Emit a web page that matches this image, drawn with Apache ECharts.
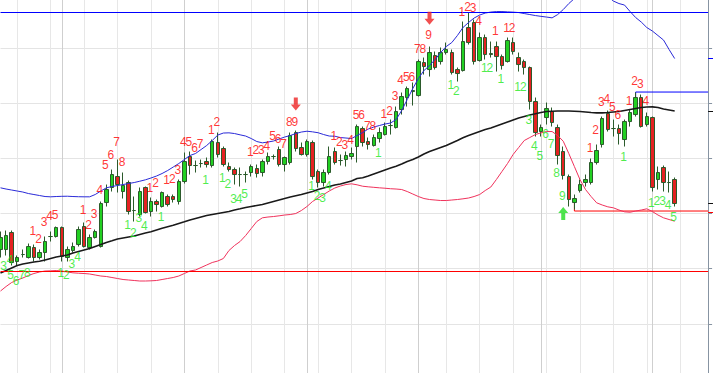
<!DOCTYPE html>
<html><head><meta charset="utf-8">
<script src="https://cdn.jsdelivr.net/npm/echarts@6/dist/echarts.min.js"></script>
<style>html,body{margin:0;padding:0;background:#fff;overflow:hidden;width:713px;height:373px}
#c{position:absolute;left:0;top:-6.55px;width:713px;height:386.05px}</style>
</head><body><div id="c"></div>
<script>
// bar slots (122 trading bars + empty slots on the right)
const categories = Array.from({length: 128}, (_, i) => 'B' + (i + 1));
// [open, close, low, high]
const candles = [
[25.0,26.2,24.2,26.8],[25.0,26.4,24.4,26.9],[26.7,23.7,23.4,26.9],[23.8,24.2,23.4,24.4],[24.5,24.5,24.2,25.0],
[24.2,25.3,24.1,25.6],[25.2,24.2,23.8,25.5],[24.2,24.7,24.0,25.0],[24.7,25.8,23.8,26.3],[26.3,26.3,25.8,26.8],
[26.3,27.2,26.2,27.3],[27.2,24.3,23.8,27.3],[24.2,25.0,23.8,25.3],[24.9,25.3,24.7,25.7],[25.5,27.0,25.3,27.3],
[27.3,25.3,25.2,27.7],[25.2,26.2,25.0,26.5],[26.2,26.8,26.1,27.0],[25.3,29.6,25.2,29.8],[29.7,31.0,29.3,31.5],
[31.2,32.5,30.8,33.0],[32.3,31.5,30.7,34.0],[30.8,31.4,30.1,32.7],[31.7,28.8,28.5,31.9],[28.9,28.9,27.8,30.3],
[28.5,30.8,28.3,31.2],[31.2,28.7,28.6,31.3],[28.8,29.8,28.3,30.2],[29.8,29.5,28.8,30.0],[29.3,30.7,29.2,30.8],
[30.3,29.5,29.3,30.5],[30.3,30.0,29.7,30.5],[29.8,31.8,29.5,32.0],[31.8,33.8,31.6,34.7],[34.3,33.4,32.5,34.8],
[33.4,33.4,32.7,33.9],[33.6,33.6,33.2,34.0],[33.8,33.5,33.2,34.2],[33.4,35.8,33.2,36.0],[35.7,34.5,34.2,36.7],
[35.1,33.5,33.3,35.3],[33.3,33.0,32.8,33.7],[33.0,32.5,31.5,33.2],[32.5,32.5,31.3,33.2],[32.5,32.5,31.7,32.8],
[32.7,33.3,32.3,33.5],[33.1,32.6,32.2,33.5],[32.7,33.8,32.3,34.0],[33.8,34.3,33.5,34.7],[34.3,34.3,34.0,34.5],
[35.0,33.5,33.3,35.3],[33.5,34.2,32.8,34.3],[33.7,36.4,33.5,36.7],[36.7,35.1,34.8,36.9],[35.2,34.5,34.4,35.7],
[34.5,35.8,34.3,36.0],[35.7,32.3,32.0,35.9],[32.8,31.7,31.2,33.0],[31.7,32.7,31.3,33.0],[32.7,34.3,32.5,35.3],
[34.8,33.7,33.5,35.2],[33.9,33.9,33.4,34.5],[34.0,34.4,33.3,34.8],[34.3,34.6,34.0,35.2],[35.3,37.3,33.7,37.5],
[37.1,35.7,35.3,37.3],[35.8,35.5,35.0,36.2],[35.4,36.2,35.3,36.5],[36.1,36.7,35.7,37.2],[36.5,37.3,36.4,37.7],
[37.4,37.4,36.5,38.0],[37.2,38.8,37.1,39.3],[39.0,40.3,38.5,40.7],[40.2,41.1,39.3,41.3],[40.8,40.9,39.4,41.7],
[40.4,43.8,40.3,44.0],[43.7,43.3,42.5,44.2],[43.0,44.7,42.3,45.3],[44.4,43.2,43.0,44.8],[43.8,44.7,43.5,45.2],
[44.7,45.0,44.5,45.7],[44.7,42.7,42.5,45.0],[43.0,42.6,41.8,43.2],[42.9,45.8,42.8,47.8],[47.2,45.7,45.5,48.7],
[47.7,43.8,43.5,48.0],[43.9,46.2,43.8,46.7],[46.2,44.5,44.0,46.5],[44.6,44.5,44.2,45.8],[45.3,44.3,42.8,45.8],
[44.3,43.4,43.0,44.5],[43.8,45.9,43.7,46.2],[45.7,44.8,44.5,46.2],[44.2,43.5,42.8,44.7],[43.8,43.2,42.5,44.0],
[43.2,39.8,39.0,43.3],[39.8,36.7,36.3,40.2],[36.8,37.2,36.3,37.5],[38.2,39.1,37.5,39.7],[38.8,37.7,37.3,39.2],
[37.2,34.4,33.5,37.5],[34.8,32.4,32.0,35.3],[32.3,30.0,29.3,32.5],[29.7,30.1,29.0,30.5],[30.9,31.5,30.7,32.0],
[31.7,32.0,31.3,32.5],[31.7,33.7,31.5,34.1],[33.7,34.9,33.5,35.5],[35.5,38.1,35.2,38.3],[38.6,37.0,36.8,38.9],
[37.1,37.1,36.3,38.0],[37.1,36.6,35.5,37.5],[36.0,37.8,35.3,38.0],[37.8,38.7,37.3,39.0],[38.5,40.2,38.3,40.7],
[40.2,37.3,37.2,40.5],[37.5,38.3,37.3,38.7],[38.2,31.2,30.8,38.3],[32.0,32.7,31.0,33.3],[33.2,31.7,30.8,33.4],
[31.7,31.7,30.7,32.8],[32.0,29.6,29.3,32.2]
];
const upperBand = [
31.17,31.05,30.95,30.85,30.75,30.6,30.5,30.4,30.3,30.27,30.3,30.32,30.33,30.3,30.28,30.27,30.27,30.5,30.85,31.17,
31.3,31.4,31.5,31.6,31.7,31.83,31.97,32.15,32.35,32.6,32.9,33.25,33.6,34.0,34.4,34.6,35.0,35.4,35.9,36.45,
36.65,36.67,36.6,36.47,36.35,36.1,35.8,35.67,35.75,35.85,36.05,36.25,36.4,36.6,36.75,36.83,36.77,36.68,36.5,36.35,
36.33,36.2,36.15,36.1,36.4,36.7,37.05,37.25,37.4,37.55,37.65,38.0,38.9,40.0,41.1,42.1,42.9,43.4,44.0,44.7,
45.3,45.7,46.4,47.2,47.7,48.15,48.45,48.65,48.75,48.8,48.8,48.77,48.74,48.7,48.6,48.5,48.4,48.32,48.25,48.17,
48.5,49.0,49.6,50.1,50.7,51.2,51.4,51.4,51.0,50.3,49.85,49.6,49.45,48.8,48.2,47.75,47.2,46.85,46.4,45.95,
45.0,44.1
];
const movingAvg = [
22.65,22.9,23.15,23.4,23.55,23.65,23.75,23.83,23.95,24.1,24.25,24.35,24.45,24.65,24.8,24.95,25.1,25.3,25.5,25.7,
25.87,26.05,26.15,26.25,26.35,26.5,26.65,26.78,26.95,27.12,27.27,27.42,27.6,27.77,27.95,28.1,28.25,28.4,28.5,28.6,
28.7,28.8,28.95,29.07,29.2,29.3,29.4,29.5,29.65,29.8,29.95,30.1,30.25,30.38,30.5,30.65,30.8,31.0,31.15,31.3,
31.45,31.55,31.7,31.85,32.1,32.17,32.35,32.55,32.75,32.95,33.15,33.33,33.55,33.8,34.0,34.25,34.55,34.8,35.0,35.2,
35.4,35.65,35.9,36.17,36.4,36.6,36.8,37.0,37.15,37.35,37.55,37.75,37.95,38.15,38.3,38.45,38.57,38.7,38.8,38.83,
38.85,38.85,38.85,38.83,38.8,38.75,38.7,38.67,38.67,38.7,38.75,38.8,38.9,39.0,39.1,39.2,39.25,39.27,39.2,39.05,
38.95,38.85
];
const lowerBand = [
20.85,21.3,21.7,21.95,22.15,22.4,22.6,22.75,22.85,22.87,22.9,22.85,22.75,22.67,22.63,22.6,22.55,22.45,22.35,22.3,
22.2,22.1,22.0,21.95,21.9,21.85,21.85,21.87,21.9,22.0,22.1,22.2,22.35,22.6,22.85,22.95,23.2,23.45,23.7,23.85,
24.1,24.9,25.4,25.8,26.4,27.1,27.8,28.17,28.25,28.3,28.37,28.45,28.5,28.6,28.9,29.3,29.8,30.15,30.5,30.85,
31.15,31.35,31.5,31.57,31.47,31.33,31.27,31.22,31.17,31.13,31.08,31.05,31.0,30.8,30.55,30.3,30.1,30.0,29.95,29.9,
29.9,29.95,30.0,30.07,30.15,30.3,30.5,30.9,31.25,32.0,32.8,33.6,34.5,35.2,35.9,36.2,36.5,36.67,36.8,36.8,
36.4,35.83,34.6,33.3,32.0,31.0,30.3,29.67,29.45,29.27,29.17,28.95,28.77,28.73,28.85,28.95,29.07,28.8,28.45,28.17,
28.0,27.83
];
// [bar index, price level of the label, count]
const sellCounts = [
[6,26.83,'1'],[7,26.07,'2'],[8,27.8,'3'],[9,28.33,'4'],[10,28.45,'5'],
[15,29.0,'1'],[16,27.45,'2'],[17,28.6,'3'],[18,31.0,'4'],[19,33.43,'5'],[20,34.5,'6'],[21,35.73,'7'],[22,33.77,'8'],
[27,31.17,'1'],[28,31.67,'2'],
[30,32.0,'1'],[31,32.1,'2'],[32,33.0,'3'],[33,35.73,'4'],[34,35.73,'5'],[35,35.17,'6'],[36,35.6,'7'],
[38,37.0,'1'],[39,37.73,'2'],
[45,34.75,'1'],[46,35.0,'2'],[47,35.0,'3'],[48,35.4,'4'],[49,36.33,'5'],[50,36.1,'6'],[51,35.6,'7'],[52,37.73,'8'],[53,37.73,'9'],
[60,36.4,'1'],[61,35.75,'2'],[62,35.5,'3'],[63,36.0,'4'],[64,38.5,'5'],[65,38.5,'6'],[66,37.33,'7'],[67,37.33,'8'],
[69,38.6,'1'],[70,38.83,'2'],[71,40.35,'3'],[72,42.0,'4'],[73,42.27,'5'],[74,42.27,'6'],[75,45.07,'7'],[76,45.07,'8'],[77,46.5,'9'],
[83,48.77,'1'],[84,49.3,'2'],[85,49.17,'3'],[86,47.83,'4'],
[89,46.83,'1'],[91,47.17,'1'],[92,47.17,'2'],
[106,35.17,'1'],[107,36.93,'2'],[108,39.77,'3'],[109,40.07,'4'],[110,39.27,'5'],[111,38.43,'6'],
[113,39.85,'1'],[114,41.85,'2'],[115,41.53,'3'],[116,39.9,'4']
];
const buyCounts = [
[0,23.4,'3'],[1,24.0,'4'],[2,22.45,'5'],[3,21.9,'6'],[4,22.5,'7'],[5,22.65,'8'],
[11,22.67,'1'],[12,22.5,'2'],[13,23.57,'3'],[14,24.23,'4'],
[23,27.43,'1'],[24,26.67,'2'],[25,28.17,'3'],[26,27.33,'4'],[29,28.23,'1'],
[37,32.0,'1'],[40,32.17,'1'],[41,31.57,'2'],[42,30.07,'3'],[43,30.07,'4'],[44,30.6,'5'],
[56,31.37,'1'],[57,30.4,'2'],[58,30.2,'3'],[59,31.4,'4'],
[68,34.7,'1'],[81,41.45,'1'],[82,40.83,'2'],[87,43.17,'1'],[88,43.17,'2'],[90,42.07,'1'],
[93,41.27,'1'],[94,41.27,'2'],[95,37.97,'3'],[96,35.4,'4'],[97,34.33,'5'],[98,36.6,'6'],[99,35.6,'7'],[100,32.67,'8'],[101,30.4,'9'],
[112,34.27,'1'],[117,29.7,'1'],[118,29.83,'2'],[119,29.83,'3'],[120,29.45,'4'],[121,28.3,'5']
];
const sellArrows = [[53,39.55],[77,48.13]];
const buyArrows = [[101,28.6]];
const tdstResistanceFull = 48.75;
const tdstSupportFull = 22.85;
const tdstResistance = [[114,40.15],[114,40.75],[127,40.75]];
const tdstSupport = [[103,29.85],[103,28.85],[127,28.85]];
const weekLines = [3,9,15,21,27,33,39,45,51,57,63,69,75,80,86,92,98,104,110,116,122];
const monthLines = [11,33,55,75,97,117];
const priceScale = {min: 12.05, max: 50.655, step: 5.515};
const lastRedMark = 28.73;

const FONT = '"Liberation Sans", Arial, sans-serif';
const chart = echarts.init(document.getElementById('c'), null, {renderer: 'svg'});
const hiddenCat = (pos, lines, color) => ({
  type: 'category', data: categories, boundaryGap: false, position: pos,
  axisLine: {show: false}, axisTick: {show: false}, axisLabel: {show: false},
  splitLine: {show: true, interval: (i) => lines.includes(i), lineStyle: {color: color, width: 1}}
});
const labelOffset = (i) => i === 0 ? [3, 0] : (i === 1 ? [4, 0] : [-1, 0]);
const countSeries = (arr, color) => ({
  type: 'scatter', silent: true, z: 6, symbol: 'circle', symbolSize: 1,
  itemStyle: {color: 'rgba(0,0,0,0)'},
  data: arr.map(d => ({value: [d[0], d[1]], label: {formatter: d[2], offset: labelOffset(d[0])}})),
  label: {show: true, position: 'inside', color: color, fontSize: 12, fontFamily: FONT}
});
const markAxis = (values, color) => ({
  type: 'value', position: 'right', min: priceScale.min, max: priceScale.max,
  axisLine: {show: false}, axisLabel: {show: false}, splitLine: {show: false},
  axisTick: {show: true, inside: false, length: 5, customValues: values, lineStyle: {color: color, width: 1}}
});
chart.setOption({
  animation: false,
  grid: {left: 0.5, right: 4.9, top: 0, bottom: 0},
  xAxis: [hiddenCat('bottom', weekLines, '#e7e7e7'), hiddenCat('top', monthLines, '#cfcfcf')],
  yAxis: [{
    type: 'value', position: 'right', min: priceScale.min, max: priceScale.max, interval: priceScale.step,
    axisLine: {show: true, lineStyle: {color: '#8794a2'}},
    axisTick: {show: true, inside: false, length: 4, lineStyle: {color: '#8794a2'}},
    axisLabel: {show: false},
    splitLine: {show: true, lineStyle: {color: '#e4e4e4'}}
  },
  markAxis([upperBand[upperBand.length - 1]], '#0000ff'),
  markAxis([movingAvg[movingAvg.length - 1], candles[candles.length - 1][1]], '#111111'),
  markAxis([lastRedMark], '#ff0000')],
  series: [
    {
      type: 'candlestick', data: candles, barWidth: 4, z: 3, silent: true,
      itemStyle: {color: '#22d022', color0: '#e42222', borderColor: '#2b5a2b', borderColor0: '#2b5a2b', borderWidth: 1},
      markLine: {
        silent: true, symbol: 'none', label: {show: false},
        data: [
          {yAxis: tdstResistanceFull, lineStyle: {color: '#0000ff', width: 1, type: 'solid'}},
          {yAxis: tdstSupportFull, lineStyle: {color: '#ff0000', width: 1, type: 'solid'}}
        ]
      }
    },
    {type: 'line', data: tdstResistance, symbol: 'none', silent: true, z: 2, lineStyle: {color: '#0000ff', width: 1}},
    {type: 'line', data: tdstSupport, symbol: 'none', silent: true, z: 2, lineStyle: {color: '#ff0000', width: 1}},
    {type: 'line', data: upperBand, symbol: 'none', silent: true, z: 4, lineStyle: {color: '#2a2ad8', width: 1}},
    {type: 'line', data: movingAvg, symbol: 'none', silent: true, z: 4, lineStyle: {color: '#1a1a1a', width: 1.6}},
    {type: 'line', data: lowerBand, symbol: 'none', silent: true, z: 4, lineStyle: {color: '#f0325c', width: 1}},
    countSeries(sellCounts, '#ff0000'),
    countSeries(buyCounts, '#1ee81e'),
    {type: 'scatter', silent: true, z: 5, data: sellArrows, symbolSize: [10, 13],
     symbol: 'path://M3,0L7,0L7,7L10,7L5,13L0,7L3,7Z', itemStyle: {color: '#ee2424'}},
    {type: 'scatter', silent: true, z: 5, data: buyArrows, symbolSize: [10, 13],
     symbol: 'path://M5,0L10,6L7,6L7,13L3,13L3,6L0,6Z', itemStyle: {color: '#22dd22'}}
  ]
});
</script>
</body></html>
